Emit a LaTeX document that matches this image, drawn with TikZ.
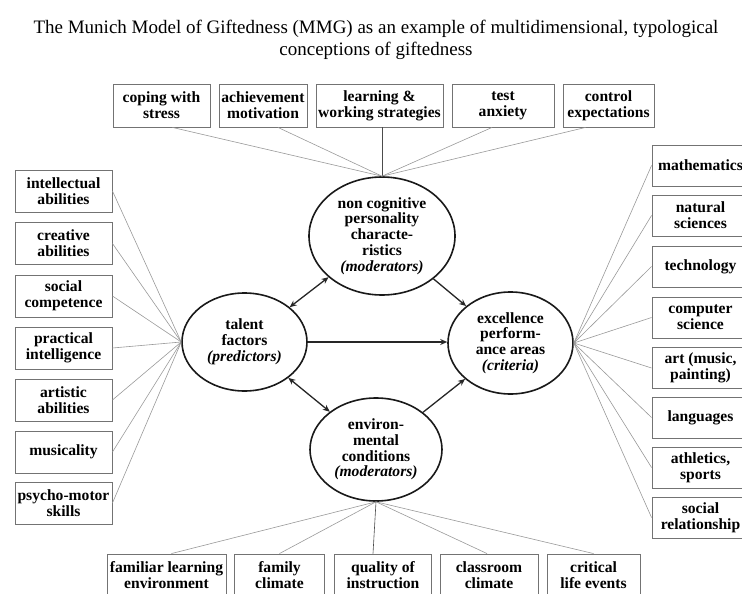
\documentclass[tikz,border=0pt]{standalone}
\usepackage{fontspec}
\setmainfont{Liberation Serif}
\usetikzlibrary{shapes.geometric,arrows.meta}

\tikzset{
  factor/.style={draw=black!55, line width=0.9pt, rectangle, inner sep=0pt,
    align=center, font=\fontsize{15.6}{15.8}\selectfont\bfseries},
  hub/.style={draw=black!90, line width=1.6pt, ellipse, inner sep=0pt,
    align=center, font=\fontsize{15.6}{15.8}\selectfont\bfseries},
  link/.style={draw=black!40, line width=0.6pt},
  influence/.style={draw=black!85, line width=1.3pt,
    -{Stealth[length=7pt,width=6pt]}},
  mutual/.style={influence, {Stealth[length=7pt,width=6pt]}-{Stealth[length=7pt,width=6pt]}},
}

\begin{document}
\begin{tikzpicture}[x=1pt,y=-1pt]
\useasboundingbox (0,0) rectangle (742,594);
\clip (0,0) rectangle (742,594);

% heading
\node (title) at (376,40) [align=center, font=\fontsize{19}{22.5}\selectfont]
  {The Munich Model of Giftedness (MMG) as an example of multidimensional, typological\\
   conceptions of giftedness};

% central constructs
\node[hub, minimum width=146pt, minimum height=118pt] (noncog) at (382,236)
  {non cognitive\\personality\\characte-\\ristics\\\textit{(moderators)}};
\node[hub, minimum width=125pt, minimum height=98pt] (talent) at (244.5,342)
  {talent\\factors\\\textit{(predictors)}};
\node[hub, minimum width=125pt, minimum height=102pt] (excel) at (510.5,343)
  {excellence\\perform-\\ance areas\\\textit{(criteria)}};
\node[hub, minimum width=132pt, minimum height=103pt] (env) at (376,449.5)
  {environ-\\mental\\conditions\\\textit{(moderators)}};

% moderators: personality characteristics
\node[factor, minimum width=97pt,  minimum height=43pt] (cope)  at (161.5,105.5) {coping with\\stress};
\node[factor, minimum width=88pt,  minimum height=43pt] (achv)  at (263,105.5)   {achievement\\motivation};
\node[factor, minimum width=127pt, minimum height=43pt] (learn) at (379.5,105.5) {learning \&\\working strategies};
\node[factor, minimum width=102pt, minimum height=43pt] (anx)   at (503,105.5)   {test\\anxiety};
\node[factor, minimum width=91pt,  minimum height=43pt] (ctrl)  at (608.5,105.5) {control\\expectations};

% predictors: talent factors
\foreach \n/\y/\t in {intel/191/{intellectual\\abilities},
                      creat/243.5/{creative\\abilities},
                      socc/296/{social\\competence},
                      pract/348/{practical\\intelligence},
                      art/400/{artistic\\abilities},
                      music/452/{musicality},
                      psych/503/{psycho-motor\\skills}}{
  \node[factor, minimum width=97pt, minimum height=42pt] (\n) at (63.5,\y) {\t};
  \draw[link] (\n.east) -- (talent.west);
}

% criteria: performance areas
\foreach \n/\y/\t in {math/165.5/{mathematics},
                      nat/215.5/{natural\\sciences},
                      tech/266.5/{technology},
                      comp/317.5/{computer\\science},
                      arts/368/{art (music,\\painting)},
                      lang/417.5/{languages},
                      sport/467.5/{athletics,\\sports},
                      rel/517.5/{social\\relationship}}{
  \node[factor, minimum width=97pt, minimum height=41pt] (\n) at (700.5,\y) {\t};
  \draw[link] (\n.west) -- (excel.east);
}

% moderators: environmental conditions
\node[factor, minimum width=119pt, minimum height=42pt] (fam)   at (166.5,575) {familiar learning\\environment};
\node[factor, minimum width=90pt,  minimum height=42pt] (fclim) at (279.5,575) {family\\climate};
\node[factor, minimum width=97pt,  minimum height=42pt] (qual)  at (383,575)   {quality of\\instruction};
\node[factor, minimum width=98pt,  minimum height=42pt] (clim)  at (489,575)   {classroom\\climate};
\node[factor, minimum width=93pt,  minimum height=42pt] (crit)  at (593.5,575) {critical\\life events};

% links to the personality hub
\draw[link] ([xshift=11pt]cope.south)  -- (noncog.north);
\draw[link] ([xshift=15pt]achv.south)  -- (noncog.north);
\draw[link, draw=black!70] ([xshift=2.5pt]learn.south) -- (noncog.north);
\draw[link] ([xshift=-11pt]anx.south)  -- (noncog.north);
\draw[link] ([xshift=-23pt]ctrl.south) -- (noncog.north);

% links to the environment hub
\draw[link] ([xshift=5pt]fam.north)    -- (env.south);
\draw[link] (fclim.north)              -- (env.south);
\draw[link, draw=black!70] ([xshift=-10pt]qual.north) -- (env.south);
\draw[link] ([xshift=-2pt]clim.north)  -- (env.south);
\draw[link] (crit.north)               -- (env.south);

% relations between the hubs
\draw[mutual]    (talent) -- (noncog);
\draw[mutual]    (talent) -- (env);
\draw[influence] (noncog) -- (excel);
\draw[influence] (env)    -- (excel);
\draw[influence] (talent.east) -- (talent.east -| excel.west);
\end{tikzpicture}
\end{document}
